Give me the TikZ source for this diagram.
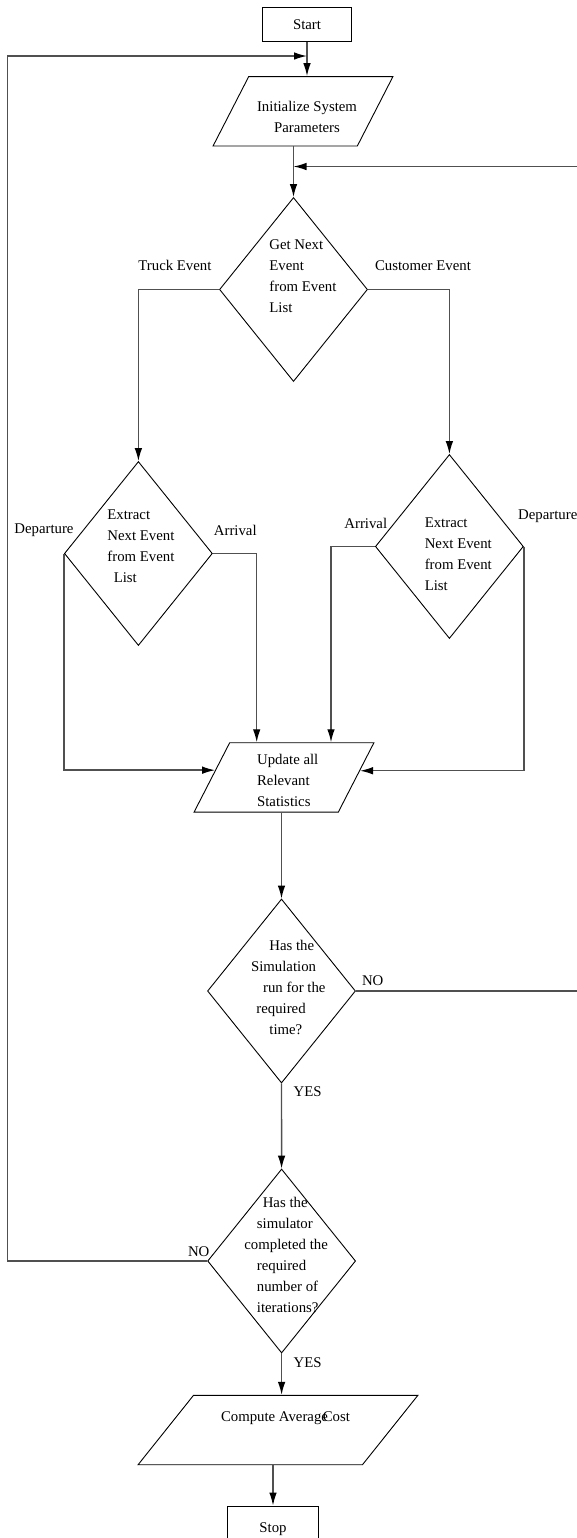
\documentclass[tikz,border=0pt]{standalone}
\usepackage{fontspec}
\setmainfont{Liberation Serif}
\usetikzlibrary{shapes.geometric,arrows.meta}
\definecolor{linegray}{RGB}{80,80,80}
\begin{document}
\begin{tikzpicture}[x=0.5pt,y=-0.5pt,
  every node/.style={font=\fontsize{7.4pt}{10.5pt}\selectfont, inner sep=0pt},
  conn/.style={draw=linegray, line width=0.7pt},
  arr/.style={conn, -{Latex[length=6.5pt,width=3.8pt,color=black]}},
  procbox/.style={draw, rectangle, line width=0.45pt, minimum width=44.3pt, minimum height=17.2pt},
  decision/.style={draw, diamond, line width=0.45pt, minimum width=74pt, minimum height=92pt},
  io/.style={draw, trapezium, trapezium left angle=66, trapezium right angle=114, trapezium stretches=true, line width=0.45pt, minimum width=90pt, minimum height=34.7pt},
  txt/.style={anchor=west, align=left},
  lbl/.style={anchor=west}]
\useasboundingbox (0,0) rectangle (577,1538);

% shapes
\node[procbox] (start) at (307,24.5) {Start};
\node[io] (init) at (303,111.3) {\phantom{M}};
\node[decision] (d1) at (293.5,289.5) {\phantom{M}};
\node[decision] (d2) at (138.4,553.5) {\phantom{M}};
\node[decision] (d3) at (449.4,546.5) {\phantom{M}};
\node[io] (upd) at (284,777.4) {\phantom{M}};
\node[decision] (d4) at (281.5,991) {\phantom{M}};
\node[decision] (d5) at (281.6,1261) {\phantom{M}};
\node[io, minimum width=140pt] (comp) at (278,1430) {\phantom{M}};
\node[procbox, minimum width=45.7pt, minimum height=23pt] (stop) at (273,1529) {Stop};

% texts
\node[align=center] (tinit) at (307,116.7) {Initialize System\\Parameters};
\node[txt] (t1) at (269,276.3) {Get Next\\Event\\from Event\\List};
\node[txt] (t2) at (107,546.7) {Extract\\Next Event\\from Event\\\hspace*{3.2pt}List};
\node[txt] (t3) at (424.4,554) {Extract\\Next Event\\from Event\\List};
\node[txt] (tupd) at (256.7,780) {Update all\\Relevant\\Statistics};
\node[txt] (t4) at (250.7,987.5) {\hspace*{9.15pt}Has the\\Simulation\\\hspace*{6pt}run for the\\\hspace*{2.65pt}required\\\hspace*{9.15pt}time?};
\node[txt] (t5) at (244,1255) {\hspace*{9.2pt}Has the\\\hspace*{6.25pt}simulator\\completed the\\\hspace*{6.25pt}required\\\hspace*{6.25pt}number of\\\hspace*{6.25pt}iterations?};
\node (tcomp) at (285.5,1418) {Compute Average\kern-0.35em Cost};

% labels
\node[lbl] (ltruck) at (138,265.7) {Truck Event};
\node[lbl] (lcust) at (374.7,265.7) {Customer Event};
\node[lbl] (ldep1) at (14,530) {Departure};
\node[lbl] (larr1) at (213.5,530) {Arrival};
\node[lbl] (larr2) at (344,523.3) {Arrival};
\node[lbl] (ldep2) at (517.8,516) {Departure};
\node (lno1) at (372.7,981) {NO};
\node (lyes1) at (307.7,1091.7) {YES};
\node (lno2) at (198.7,1251.7) {NO};
\node (lyes2) at (307.7,1362.7) {YES};

% helper coordinates
\coordinate (xa) at (256.7,0);
\coordinate (xb) at (331,0);
\coordinate (xr) at (590,0);
\coordinate (yr) at (0,166.5);
\coordinate (xl) at (7.4,0);
\coordinate (yl) at (0,56);

% connectors
\draw[arr] (start) -- (start.south |- init.north);
\draw[arr] (d1.north |- init.south) -- (d1.north);
\draw[arr] (d1.west) -| (d2.north);
\draw[arr] (d1.east) -| (d3.north);
\draw[arr] (d2.west) |- (upd.174);
\draw[arr] (d2.east) -| (xa |- upd.north);
\draw[arr] (d3.west) -| (xb |- upd.north);
\draw[arr] (d3.east) |- (upd.5);
\draw[arr] (d4.north |- upd.south) -- (d4.north);
\draw[arr] (d4.east) -- (d4.east -| xr) -- (xr |- yr) -- (yr -| d1.north);
\draw[arr] (d4) -- (d5);
\draw[arr] (d5.west) -- (d5.west -| xl) -- (xl |- yl) -- (yl -| start.south);
\draw[arr] (d5.south) -- (d5.south |- comp.north);
\draw[arr] (stop.north |- comp.south) -- (stop.north);
\end{tikzpicture}
\end{document}
